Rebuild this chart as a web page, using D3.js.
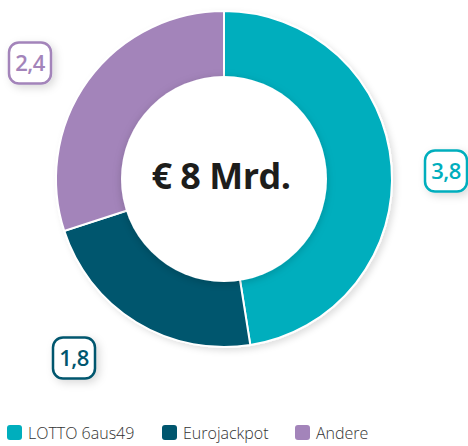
<!DOCTYPE html>
<html>
<head>
<meta charset="utf-8">
<script src="https://cdn.jsdelivr.net/npm/d3@7"></script>
<style>
  body { margin: 0; background: #fff; }
  svg { display: block; font-family: "Open Sans", sans-serif; }
</style>
</head>
<body>
<svg width="468" height="446"></svg>
<script>
var categories = ["LOTTO 6aus49", "Eurojackpot", "Andere"];
var values = [3.8, 1.8, 2.4];
var valueLabels = ["3,8", "1,8", "2,4"];
var colors = ["#00aebd", "#00566e", "#a384ba"];
var centerLabel = "€ 8 Mrd.";

var svg = d3.select("svg");
var cx = 224, cy = 179;
var outerR = 168, innerR = 103;

var defs = svg.append("defs");
var f = defs.append("filter").attr("id", "shadow")
    .attr("x", "-30%").attr("y", "-30%").attr("width", "160%").attr("height", "160%");
f.append("feDropShadow").attr("dx", 0).attr("dy", 2).attr("stdDeviation", 4)
    .attr("flood-color", "#000").attr("flood-opacity", 0.18);
var f2 = defs.append("filter").attr("id", "shadow2")
    .attr("x", "-40%").attr("y", "-40%").attr("width", "180%").attr("height", "180%");
f2.append("feDropShadow").attr("dx", 3).attr("dy", 3).attr("stdDeviation", 4)
    .attr("flood-color", "#000").attr("flood-opacity", 0.15);
var f3 = defs.append("filter").attr("id", "shadow3")
    .attr("x", "-20%").attr("y", "-20%").attr("width", "140%").attr("height", "140%");
f3.append("feDropShadow").attr("dx", 3).attr("dy", 3).attr("stdDeviation", 3)
    .attr("flood-color", "#000").attr("flood-opacity", 0.12);

var g = svg.append("g").attr("transform", "translate(" + cx + "," + cy + ")");

var pie = d3.pie().sort(null).value(function(d) { return d; });
var arc = d3.arc().innerRadius(innerR - 10).outerRadius(outerR);
var arcs = pie(values);

var ring = g.append("g").attr("filter", "url(#shadow3)");
ring.selectAll(".slice")
    .data(arcs)
    .enter().append("path")
    .attr("class", "slice")
    .attr("d", arc)
    .attr("fill", function(d, i) { return colors[i]; })
    .attr("stroke", "#fff")
    .attr("stroke-width", 2);

// inner white circle with shadow
g.append("circle")
    .attr("r", innerR)
    .attr("fill", "#fff")
    .attr("filter", "url(#shadow)");

g.append("text")
    .attr("x", -3)
    .attr("y", 10)
    .attr("text-anchor", "middle")
    .attr("font-size", "36px")
    .attr("font-weight", 700)
    .attr("letter-spacing", "-0.5px")
    .attr("fill", "#1d1d1b")
    .text(centerLabel);

// value label boxes
var labelPos = [[446, 171], [74, 358], [30, 63]];
var bw = 42, bh = 41;
var lab = svg.selectAll(".lab")
    .data(arcs)
    .enter().append("g")
    .attr("class", "lab")
    .attr("transform", function(d, i) { return "translate(" + labelPos[i][0] + "," + labelPos[i][1] + ")"; });
lab.append("rect")
    .attr("x", -bw / 2).attr("y", -bh / 2)
    .attr("width", bw).attr("height", bh)
    .attr("rx", 10)
    .attr("fill", "#fff")
    .attr("stroke", function(d, i) { return colors[i]; })
    .attr("stroke-width", 2.5)
    .attr("filter", "url(#shadow2)");
lab.append("text")
    .attr("text-anchor", "middle")
    .attr("y", 8)
    .attr("font-size", "22px")
    .attr("font-weight", 600)
    .attr("letter-spacing", "-0.5px")
    .attr("fill", function(d, i) { return colors[i]; })
    .text(function(d, i) { return valueLabels[i]; });

// legend
var legendX = [7, 162, 295];
var leg = svg.selectAll(".leg")
    .data(categories)
    .enter().append("g")
    .attr("class", "leg")
    .attr("transform", function(d, i) { return "translate(" + legendX[i] + ",425)"; });
leg.append("rect")
    .attr("width", 15).attr("height", 15).attr("rx", 3)
    .attr("fill", function(d, i) { return colors[i]; });
leg.append("text")
    .attr("x", 21)
    .attr("y", 13.5)
    .attr("font-size", "16px")
    .attr("font-weight", 300)
    .attr("fill", "#333")
    .text(function(d) { return d; });
</script>
</body>
</html>
